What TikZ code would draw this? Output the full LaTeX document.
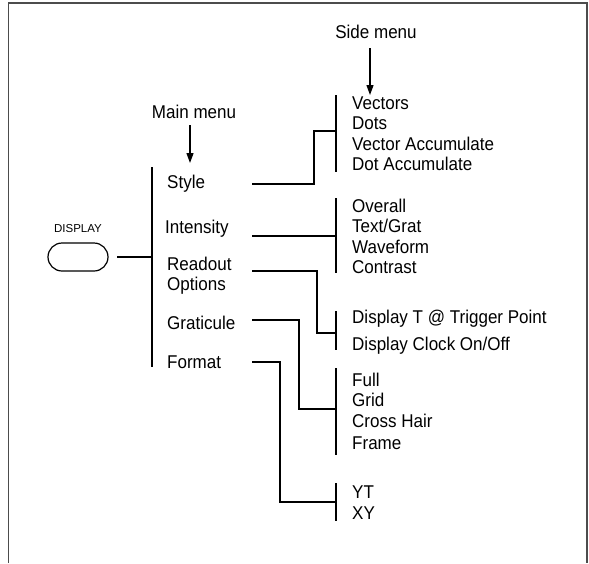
\documentclass[tikz,border=0pt]{standalone}
\usepackage{fontspec}
\setmainfont{Liberation Sans}[FakeStretch=0.92]
\newfontfamily\dispfont{Liberation Sans}
\usetikzlibrary{arrows.meta}
\begin{document}
\begin{tikzpicture}[x=1pt,y=-1pt,
  lbl/.style={anchor=base west,inner sep=0pt,font=\fontsize{18.5}{20}\selectfont},
  head/.style={anchor=base,inner sep=0pt,font=\fontsize{18.5}{20}\selectfont},
  conn/.style={line width=2.2pt},
  bar/.style={line width=2.2pt},
  pointer/.style={line width=1.2pt,-{Triangle[length=10pt,width=7pt]}},
  frame/.style={line width=1.6pt,draw=black!70}]
\useasboundingbox (0,0) rectangle (589,563);
\draw[frame] (8.5,563) -- (8.5,3) -- (587,3) -- (587,563);

% headings
\node[head] (side) at (376,38.5) {Side menu};
\node[head] (mainh) at (194,118.5) {Main menu};
\coordinate (sidetop) at (370,48);
\coordinate (sidetip) at (370,95);
\coordinate (maintop) at (190,125);
\coordinate (maintip) at (190,163);
\draw[pointer] (sidetop) -- (sidetip);
\draw[pointer] (maintop) -- (maintip);

% display button
\node[anchor=base,inner sep=0pt,font=\dispfont\fontsize{11.5}{12}\selectfont] (dlabel) at (78,232.5) {DISPLAY};
\node[draw,line width=1.2pt,minimum width=60pt,minimum height=28pt,rounded corners=14pt,inner sep=0pt] (btn) at (78,257) {};

% main menu bar
\coordinate (mtop) at (152,167);
\coordinate (mbot) at (152,367);
\draw[bar] (mtop) -- (mbot);
\coordinate (mjoin) at (152,257);
\draw[conn] ([xshift=8.5pt]btn.east |- mjoin) -- (mjoin);

% main menu items
\node[lbl] (style) at (167,188.5) {Style};
\node[lbl] (inten) at (165,233.5) {Intensity};
\node[lbl] (readout) at (167,270.5) {Readout};
\node[lbl] (options) at (167,290.5) {Options};
\node[lbl] (grat) at (167,329.5) {Graticule};
\node[lbl] (format) at (167,368.5) {Format};

% side bars
\coordinate (s1t) at (336,95);  \coordinate (s1b) at (336,172);
\coordinate (s2t) at (336,198); \coordinate (s2b) at (336,273);
\coordinate (s3t) at (336,311); \coordinate (s3b) at (336,350);
\coordinate (s4t) at (336,368); \coordinate (s4b) at (336,455);
\coordinate (s5t) at (336,483); \coordinate (s5b) at (336,521);
\foreach \a/\b in {s1t/s1b,s2t/s2b,s3t/s3b,s4t/s4b,s5t/s5b} \draw[bar] (\a) -- (\b);

% side items
\node[lbl] (v1) at (352,109.5) {Vectors};
\node[lbl] (v2) at (352,129.5) {Dots};
\node[lbl] (v3) at (352,150.5) {Vector Accumulate};
\node[lbl] (v4) at (352,170.5) {Dot Accumulate};
\node[lbl] (i1) at (352,212.5) {Overall};
\node[lbl] (i2) at (352,232.5) {Text/Grat};
\node[lbl] (i3) at (352,253.5) {Waveform};
\node[lbl] (i4) at (352,273.5) {Contrast};
\node[lbl] (r1) at (352,323.5) {Display T @ Trigger Point};
\node[lbl] (r2) at (352,350.5) {Display Clock On/Off};
\node[lbl] (g1) at (352,386.5) {Full};
\node[lbl] (g2) at (352,406.5) {Grid};
\node[lbl] (g3) at (352,427.5) {Cross Hair};
\node[lbl] (g4) at (352,449.5) {Frame};
\node[lbl] (f1) at (352,498.5) {YT};
\node[lbl] (f2) at (352,519.5) {XY};

% connectors
\coordinate (cs0) at (252,184); \coordinate (cs1) at (336,131);
\draw[conn] (cs0) -- (314,184) -- (314,131) -- (cs1);
\coordinate (ci0) at (252,236); \coordinate (ci1) at (336,236);
\draw[conn] (ci0) -- (ci1);
\coordinate (cr0) at (252,271); \coordinate (cr1) at (336,333);
\draw[conn] (cr0) -- (317,271) -- (317,333) -- (cr1);
\coordinate (cg0) at (252,320); \coordinate (cg1) at (336,409);
\draw[conn] (cg0) -- (299,320) -- (299,409) -- (cg1);
\coordinate (cf0) at (252,362); \coordinate (cf1) at (336,502);
\draw[conn] (cf0) -- (280,362) -- (280,502) -- (cf1);
\end{tikzpicture}
\end{document}
